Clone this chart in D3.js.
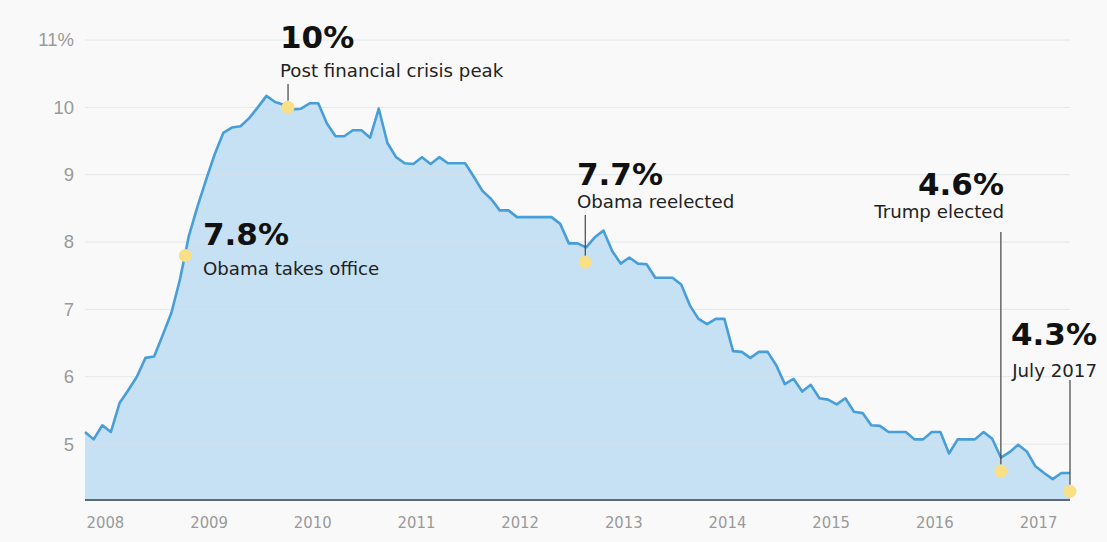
<!DOCTYPE html>
<html>
<head>
<meta charset="utf-8">
<script src="https://cdn.jsdelivr.net/npm/d3@7"></script>
<style>
  html, body { margin: 0; padding: 0; background: #f9f9f9; }
  svg { display: block; }
</style>
</head>
<body>
<svg id="chart" width="1107" height="542"></svg>
<script>
// Monthly unemployment rate (%), January 2008 through July 2017
const rate = [
  5.18, 5.07, 5.28, 5.18, 5.61, 5.80, 6.00, 6.28, 6.30, 6.62, 6.95, 7.45,
  8.08, 8.52, 8.92, 9.30, 9.62, 9.70, 9.72, 9.84, 10.00, 10.17, 10.08, 10.04,
  9.97, 9.98, 10.06, 10.06, 9.76, 9.57, 9.57, 9.66, 9.66, 9.55, 9.98, 9.47,
  9.26, 9.17, 9.16, 9.26, 9.16, 9.26, 9.17, 9.17, 9.17, 8.97, 8.76, 8.64,
  8.47, 8.47, 8.37, 8.37, 8.37, 8.37, 8.37, 8.27, 7.98, 7.98, 7.92, 8.07,
  8.17, 7.87, 7.68, 7.77, 7.68, 7.67, 7.47, 7.47, 7.47, 7.37, 7.06, 6.86,
  6.78, 6.86, 6.86, 6.38, 6.37, 6.28, 6.37, 6.37, 6.17, 5.89, 5.97, 5.78,
  5.88, 5.68, 5.66, 5.59, 5.68, 5.48, 5.46, 5.28, 5.27, 5.18, 5.18, 5.18,
  5.07, 5.07, 5.18, 5.18, 4.86, 5.07, 5.07, 5.07, 5.18, 5.08, 4.80, 4.88,
  4.99, 4.89, 4.67, 4.57, 4.48, 4.57, 4.57
];

// Year labels, one per January
const yearLabels = ["2008", "2009", "2010", "2011", "2012", "2013", "2014", "2015", "2016", "2017"];
// Value-axis ticks
const yTicks = [5, 6, 7, 8, 9, 10, 11];

// Highlighted moments
const eventNames  = ["Obama takes office", "Post financial crisis peak", "Obama reelected", "Trump elected", "July 2017"];
const eventValues = [7.8, 10, 7.7, 4.6, 4.3];
const eventMonths = [11.6, 23.5, 57.9, 106, 114];

// Annotation text placement (anchor, x, baselines of headline and caption, leader start)
const noteLayout = [
  { anchor: "start", x: 203,  big: 245, small: 275, leader: null },
  { anchor: "start", x: 280,  big: 48,  small: 77,  leader: 84 },
  { anchor: "start", x: 577,  big: 185, small: 208, leader: 215 },
  { anchor: "end",   x: 1004, big: 195, small: 218, leader: 232 },
  { anchor: "end",   x: 1097, big: 345, small: 377, leader: 380 }
];

const svg = d3.select("#chart");
const W = 1107, H = 542;

svg.append("rect").attr("width", W).attr("height", H).attr("fill", "#f9f9f9");

const x = d3.scaleLinear().domain([0, rate.length - 1]).range([85, 1070]);
const y = d3.scaleLinear().domain([4.17, 11]).range([500, 40]);

const months = rate.map((v, i) => i);

// Area under the line
const area = d3.area()
  .x(i => x(i))
  .y0(y(4.17))
  .y1(i => y(rate[i]));

svg.append("path")
  .datum(months)
  .attr("d", area)
  .attr("fill", "#c7e1f4");

// Horizontal grid lines (drawn over the fill, semi-transparent)
svg.append("g")
  .selectAll("line")
  .data(yTicks)
  .join("line")
  .attr("x1", 85)
  .attr("x2", 1070)
  .attr("y1", d => y(d))
  .attr("y2", d => y(d))
  .attr("stroke", "#d9dfe4")
  .attr("stroke-opacity", 0.7)
  .attr("stroke-width", 1);

// Y axis labels
const yAxis = d3.axisLeft(y)
  .tickValues(yTicks)
  .tickSize(0)
  .tickPadding(0)
  .tickFormat(d => d === 11 ? "11%" : String(d));

const yg = svg.append("g")
  .attr("transform", "translate(74,0)")
  .call(yAxis);
yg.select(".domain").remove();
yg.selectAll("text")
  .attr("fill", "#999")
  .attr("font-family", "'Liberation Sans', Arial, sans-serif")
  .attr("font-size", 18.5);

// The line itself
const line = d3.line()
  .x(i => x(i))
  .y(i => y(rate[i]));

svg.append("path")
  .datum(months)
  .attr("d", line)
  .attr("fill", "none")
  .attr("stroke", "#479ed9")
  .attr("stroke-width", 2.6)
  .attr("stroke-linejoin", "round");

// Baseline
svg.append("line")
  .attr("x1", x(0))
  .attr("x2", x(rate.length - 1))
  .attr("y1", y(4.17))
  .attr("y2", y(4.17))
  .attr("stroke", "#5e6a72")
  .attr("stroke-width", 2);

// X axis year labels, left-aligned on each January
const yearTicks = yearLabels.map((d, i) => i * 12);
const xAxis = d3.axisBottom(x)
  .tickValues(yearTicks)
  .tickSize(0)
  .tickPadding(0)
  .tickFormat((d, i) => yearLabels[i]);

const xg = svg.append("g")
  .attr("transform", "translate(1,528)")
  .call(xAxis);
xg.select(".domain").remove();
xg.selectAll("text")
  .attr("text-anchor", "start")
  .attr("dy", 0)
  .attr("fill", "#999")
  .attr("font-family", "'DejaVu Sans Condensed', 'DejaVu Sans', sans-serif")
  .attr("font-stretch", "condensed")
  .attr("font-size", 16.5);

// Event annotations
const dotR = 6.5;
const events = eventNames.map((name, i) => ({
  name, value: eventValues[i], month: eventMonths[i], layout: noteLayout[i]
}));

const notes = svg.append("g");

notes.selectAll("line.leader")
  .data(events.filter(d => d.layout.leader !== null))
  .join("line")
  .attr("class", "leader")
  .attr("x1", d => x(d.month))
  .attr("x2", d => x(d.month))
  .attr("y1", d => d.layout.leader)
  .attr("y2", d => y(d.value) - dotR)
  .attr("stroke", "#444")
  .attr("stroke-width", 1.2);

notes.selectAll("circle")
  .data(events)
  .join("circle")
  .attr("cx", d => x(d.month))
  .attr("cy", d => y(d.value))
  .attr("r", dotR)
  .attr("fill", "#f9df86");

notes.selectAll("text.big")
  .data(events)
  .join("text")
  .attr("class", "big")
  .attr("x", d => d.layout.x)
  .attr("y", d => d.layout.big)
  .attr("text-anchor", d => d.layout.anchor)
  .attr("font-family", "'DejaVu Sans', sans-serif")
  .attr("font-weight", "bold")
  .attr("font-size", 31)
  .attr("fill", "#111")
  .text(d => d3.format(".2~f")(d.value) + "%");

notes.selectAll("text.small")
  .data(events)
  .join("text")
  .attr("class", "small")
  .attr("x", d => d.layout.x)
  .attr("y", d => d.layout.small)
  .attr("text-anchor", d => d.layout.anchor)
  .attr("font-family", "'DejaVu Sans', sans-serif")
  .attr("font-size", 18.2)
  .attr("fill", "#222")
  .text(d => d.name);
</script>
</body>
</html>
